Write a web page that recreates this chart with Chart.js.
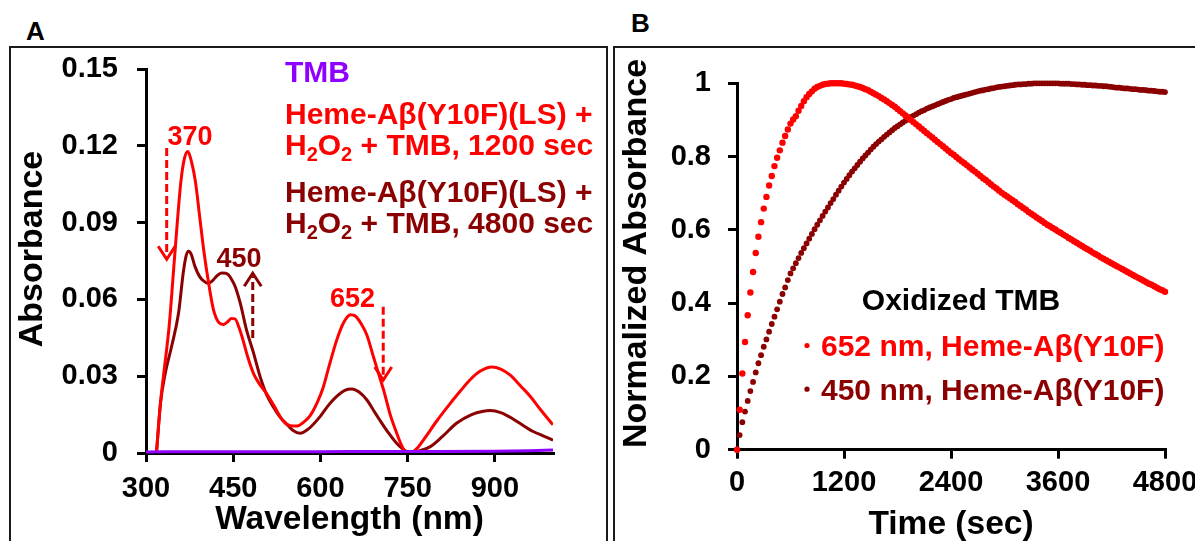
<!DOCTYPE html>
<html><head><meta charset="utf-8">
<script src="https://cdn.jsdelivr.net/npm/chart.js@4.4.1/dist/chart.umd.min.js"></script>
<style>
html,body{margin:0;padding:0;background:#fff;overflow:hidden;width:1195px;height:541px;}
.panel{position:absolute;border:2px solid #1a1a1a;box-sizing:border-box;}
#pa{left:9px;top:46px;width:599px;height:540px;}
#pb{left:613px;top:46px;width:640px;height:540px;}
.lbl{position:absolute;font:bold 26px "Liberation Sans",Arial,sans-serif;line-height:26px;color:#000;}
canvas{position:absolute;}
</style></head><body>
<div class="panel" id="pa"></div>
<div class="panel" id="pb"></div>
<div class="lbl" style="left:26px;top:18px">A</div>
<div class="lbl" style="left:631px;top:10px">B</div>
<canvas id="ca" width="594" height="512" style="left:11px;top:48px"></canvas>
<canvas id="cb" width="620" height="512" style="left:615px;top:48px"></canvas>
<script>
// ---------- Panel A data (wavelength in nm, absorbance) ----------
const wlTMB  = [300,400,500,600,700,800,900,960,1000];
const absTMB = [0.0004,0.0005,0.0005,0.0005,0.0006,0.0006,0.0007,0.0009,0.0012];

const wlRed  = [318,325,330,340,350,360,366,372,378,385,393,400,408,416,425,433,440,447,453,460,467,475,485,495,508,520,535,548,560,570,582,595,605,615,628,640,652,660,670,680,691,700,710,720,730,740,748,757,766,780,800,823,840,857,875,895,910,926,945,961,980,1000];
const absRed = [0,0.020,0.030,0.050,0.079,0.106,0.115,0.1178,0.114,0.106,0.091,0.078,0.066,0.056,0.051,0.0502,0.0512,0.0525,0.0524,0.049,0.044,0.0375,0.031,0.027,0.023,0.0185,0.0128,0.0107,0.0105,0.0118,0.0145,0.020,0.0258,0.034,0.0441,0.051,0.054,0.0535,0.0505,0.046,0.0377,0.031,0.0235,0.015,0.0085,0.0028,0.0002,0.0003,0.0018,0.006,0.0125,0.0193,0.024,0.0285,0.032,0.0336,0.0328,0.0305,0.026,0.0221,0.0165,0.011];

const wlDark  = [318,325,333,344,356,364,369,373,378,384,392,399,407,414,422,430,437,442,448,453,462,473,485,496,508,519,530,542,553,565,580,599,615,628,642,654,667,680,691,702,716,731,745,754,770,789,810,834,860,880,892,910,930,943,965,985,1000];
const absDark = [0,0.0195,0.031,0.0416,0.0547,0.0703,0.077,0.0788,0.0775,0.073,0.069,0.0672,0.0662,0.0672,0.0692,0.0703,0.0702,0.0695,0.0675,0.0652,0.0586,0.048,0.039,0.030,0.0225,0.018,0.0142,0.0112,0.0088,0.0077,0.0095,0.0141,0.019,0.0221,0.0245,0.025,0.0237,0.0207,0.0168,0.0129,0.0082,0.0038,0.001,0,0.0008,0.0025,0.0065,0.0116,0.015,0.0163,0.0166,0.0158,0.0135,0.0116,0.0085,0.0065,0.005];

const xTicksA = [300,450,600,750,900];
const yTicksA = [0,0.03,0.06,0.09,0.12,0.15];
const yTickLabelsA = ['0','0.03','0.06','0.09','0.12','0.15'];

// ---------- Panel B data (time in sec, normalized absorbance) ----------
const timeB = [0,30,60,90,120,150,180,210,240,270,300,330,360,390,420,450,480,510,540,570,
600,630,660,690,720,750,780,810,840,870,900,930,960,990,1020,1050,1080,1110,1140,1170,
1200,1230,1260,1290,1320,1350,1380,1410,1440,1470,1500,1530,1560,1590,1620,1650,1680,1710,1740,1770,
1800,1830,1860,1890,1920,1950,1980,2010,2040,2070,2100,2130,2160,2190,2220,2250,2280,2310,2340,2370,
2400,2430,2460,2490,2520,2550,2580,2610,2640,2670,2700,2730,2760,2790,2820,2850,2880,2910,2940,2970,
3000,3030,3060,3090,3120,3150,3180,3210,3240,3270,3300,3330,3360,3390,3420,3450,3480,3510,3540,3570,
3600,3630,3660,3690,3720,3750,3780,3810,3840,3870,3900,3930,3960,3990,4020,4050,4080,4110,4140,4170,
4200,4230,4260,4290,4320,4350,4380,4410,4440,4470,4500,4530,4560,4590,4620,4650,4680,4710,4740,4770,4800];
const norm652 = [0,0.109,0.208,0.294,0.367,0.429,0.485,0.537,0.581,0.621,0.658,0.690,0.721,0.747,0.774,0.797,0.817,0.838,0.856,0.874,
0.890,0.901,0.910,0.925,0.938,0.951,0.962,0.971,0.978,0.985,0.990,0.993,0.996,0.998,0.999,1.000,1.000,1.000,1.000,1.000,
0.999,0.998,0.997,0.996,0.994,0.992,0.990,0.987,0.984,0.981,0.977,0.973,0.969,0.965,0.960,0.956,0.951,0.946,0.941,0.936,
0.930,0.924,0.918,0.912,0.906,0.900,0.894,0.888,0.882,0.876,0.870,0.864,0.858,0.852,0.846,0.840,0.834,0.828,0.822,0.816,
0.810,0.805,0.799,0.793,0.787,0.782,0.776,0.770,0.764,0.759,0.753,0.747,0.741,0.736,0.730,0.724,0.718,0.713,0.707,0.701,
0.696,0.691,0.686,0.681,0.676,0.670,0.665,0.660,0.655,0.649,0.644,0.639,0.634,0.629,0.624,0.619,0.614,0.610,0.605,0.601,
0.596,0.592,0.587,0.583,0.578,0.574,0.569,0.565,0.560,0.556,0.551,0.547,0.543,0.538,0.534,0.530,0.525,0.521,0.517,0.513,
0.509,0.505,0.501,0.497,0.493,0.489,0.485,0.481,0.477,0.473,0.469,0.465,0.461,0.457,0.453,0.450,0.446,0.442,0.438,0.435,0.431];
const norm450 = [0,0.040,0.075,0.104,0.133,0.160,0.185,0.211,0.236,0.258,0.281,0.301,0.322,0.343,0.363,0.383,0.404,0.425,0.443,0.463,
0.481,0.495,0.509,0.523,0.537,0.550,0.563,0.576,0.589,0.602,0.614,0.626,0.638,0.650,0.661,0.673,0.684,0.696,0.707,0.718,
0.729,0.739,0.749,0.759,0.768,0.777,0.786,0.795,0.803,0.811,0.819,0.827,0.834,0.841,0.847,0.854,0.860,0.866,0.872,0.878,
0.883,0.888,0.893,0.898,0.903,0.908,0.912,0.916,0.920,0.924,0.927,0.931,0.934,0.937,0.940,0.943,0.946,0.949,0.952,0.955,
0.957,0.960,0.962,0.964,0.966,0.968,0.970,0.972,0.974,0.976,0.978,0.980,0.981,0.983,0.984,0.986,0.987,0.989,0.990,0.991,
0.992,0.993,0.994,0.995,0.996,0.997,0.997,0.998,0.998,0.999,0.999,1.000,1.000,1.000,1.000,1.000,1.000,1.000,1.000,1.000,
1.000,0.999,0.999,0.999,0.999,0.998,0.998,0.997,0.997,0.996,0.996,0.995,0.995,0.994,0.994,0.993,0.993,0.992,0.992,0.991,
0.990,0.989,0.988,0.988,0.987,0.986,0.986,0.985,0.984,0.984,0.983,0.982,0.982,0.981,0.980,0.980,0.979,0.978,0.977,0.977,0.976];

const xTicksB = [0,1200,2400,3600,4800];
const yTicksB = [0,0.2,0.4,0.6,0.8,1];
const yTickLabelsB = ['0','0.2','0.4','0.6','0.8','1'];

// ---------- styles ----------
const RED = '#FF0000', DARK = '#8B0000', PURPLE = '#8F00FF';
const FAM = '"Liberation Sans", Arial, Helvetica, sans-serif';

function pairs(xs, ys){ return xs.map((x,i)=>({x:x, y:ys[i]})); }

function richText(ctx, parts, x, y, size, align, color){
  const F = 'bold ' + size + 'px ' + FAM;
  const FS = 'bold ' + Math.round(size*0.68) + 'px ' + FAM;
  let w = 0;
  parts.forEach(p => { ctx.font = p[1] ? FS : F; w += ctx.measureText(p[0]).width; });
  let cx = align === 'center' ? x - w/2 : x;
  ctx.fillStyle = color; ctx.textAlign = 'left'; ctx.textBaseline = 'alphabetic';
  parts.forEach(p => {
    ctx.font = p[1] ? FS : F;
    ctx.fillText(p[0], cx, y + (p[1] ? size*0.21 : 0));
    cx += ctx.measureText(p[0]).width;
  });
}
function dashedArrow(ctx, x, yFrom, yTo, color){
  const dir = yTo > yFrom ? 1 : -1;
  ctx.save();
  ctx.strokeStyle = color; ctx.lineWidth = 3; ctx.lineCap = 'butt';
  ctx.setLineDash([8,4]);
  ctx.beginPath(); ctx.moveTo(x, yFrom); ctx.lineTo(x, yTo - dir*3); ctx.stroke();
  ctx.setLineDash([]);
  ctx.lineJoin = 'miter';
  ctx.beginPath(); ctx.moveTo(x-8.5, yTo - dir*13); ctx.lineTo(x, yTo); ctx.lineTo(x+8.5, yTo - dir*13); ctx.stroke();
  ctx.restore();
}

// annotation anchors in data units (panel A)
const peakLabelsA = [
  {text:'370', wl:375.6, a:0.1203, color:RED},
  {text:'450', wl:459.9, a:0.0728, color:DARK},
  {text:'652', wl:655,   a:0.0571, color:RED}
];
const arrowsA = [
  {wl:335.6, from:0.1191, to:0.0757, color:RED},
  {wl:483.6, from:0.0449, to:0.0702, color:DARK},
  {wl:708,   from:0.0571, to:0.0285, color:RED}
];
const legendA = [
  {parts:[['TMB']], color:PURPLE, dy:13},
  {parts:[['Heme-A\u03B2(Y10F)(LS) +']], color:RED, dy:55},
  {parts:[['H'],['2',1],['O'],['2',1],[' + TMB, 1200 sec']], color:RED, dy:86},
  {parts:[['Heme-A\u03B2(Y10F)(LS) +']], color:DARK, dy:133},
  {parts:[['H'],['2',1],['O'],['2',1],[' + TMB, 4800 sec']], color:DARK, dy:164}
];

const annotA = {
  id:'annotA',
  afterDraw(chart){
    const {ctx, chartArea, scales:{x, y}} = chart;
    ctx.save();
    legendA.forEach(l => richText(ctx, l.parts, chartArea.left + 139, chartArea.top + l.dy, 30, 'left', l.color));
    peakLabelsA.forEach(p => richText(ctx, [[p.text]], x.getPixelForValue(p.wl), y.getPixelForValue(p.a), 27, 'center', p.color));
    arrowsA.forEach(a => dashedArrow(ctx, x.getPixelForValue(a.wl), y.getPixelForValue(a.from), y.getPixelForValue(a.to), a.color));
    ctx.restore();
  }
};

const legendB = [
  {text:'652 nm, Heme-A\u03B2(Y10F)', color:RED, dy:273},
  {text:'450 nm, Heme-A\u03B2(Y10F)', color:DARK, dy:316.7}
];
const annotB = {
  id:'annotB',
  afterDraw(chart){
    const {ctx, chartArea} = chart;
    ctx.save();
    richText(ctx, [['Oxidized TMB']], chartArea.left + 224, chartArea.top + 226.7, 30, 'center', '#000');
    legendB.forEach(l => {
      ctx.fillStyle = l.color;
      ctx.beginPath(); ctx.arc(chartArea.left + 70, chartArea.top + l.dy - 10.8, 2.6, 0, Math.PI*2); ctx.fill();
      richText(ctx, [[l.text]], chartArea.left + 84, chartArea.top + l.dy, 30, 'left', l.color);
    });
    ctx.restore();
  }
};

function axisCfg(o){
  return {
    type:'linear', min:o.min, max:o.max,
    afterBuildTicks: s => { s.ticks = o.ticks.map(v => ({value:v})); },
    afterFit: s => {
      if (o.width !== undefined) { s.width = o.width; s.paddingTop = 0; s.paddingBottom = 0; }
      if (o.height !== undefined) { s.height = o.height; s.paddingLeft = 0; s.paddingRight = 0; }
    },
    afterUpdate: s => {
      if (o.titleShift && !s._titleShifted) {
        const orig = s.drawTitle;
        s.drawTitle = function(){ const c = this.ctx; c.save(); c.translate(0, o.titleShift); orig.apply(this, arguments); c.restore(); };
        s._titleShifted = true;
      }
    },
    ticks:{ color:'#000', font:{family:FAM, size:29, weight:'bold'}, padding:o.pad, maxRotation:0, autoSkip:false,
            callback: o.labels ? ((v,i) => o.labels[i]) : (v => String(v)) },
    grid:{ display:true, drawOnChartArea:false, drawTicks:true, tickLength:9, tickWidth:3, tickColor:'#000', color:'#000', lineWidth:3 },
    border:{ display:true, color:'#000', width:3 },
    title:{ display:true, text:o.title, color:'#000', font:{family:FAM, size:o.tsize, weight:'bold'}, padding:o.tpad }
  };
}

Chart.defaults.font.family = FAM;

new Chart(document.getElementById('ca'), {
  type:'line',
  data:{ datasets:[
    {label:'TMB', data:pairs(wlTMB, absTMB), borderColor:PURPLE, borderWidth:3, pointRadius:0, cubicInterpolationMode:'monotone', clip:false},
    {label:'Heme-A\u03B2(Y10F)(LS) + H2O2 + TMB, 1200 sec', data:pairs(wlRed, absRed), borderColor:RED, borderWidth:3, pointRadius:0, cubicInterpolationMode:'monotone'},
    {label:'Heme-A\u03B2(Y10F)(LS) + H2O2 + TMB, 4800 sec', data:pairs(wlDark, absDark), borderColor:DARK, borderWidth:3, pointRadius:0, cubicInterpolationMode:'monotone'}
  ]},
  options:{
    responsive:false, animation:false, events:[],
    layout:{padding:{left:0, top:21, right:52, bottom:0}},
    plugins:{legend:{display:false}, tooltip:{enabled:false}},
    scales:{
      x: axisCfg({min:300, max:1000, ticks:xTicksA, pad:10, height:107, title:'Wavelength (nm)', tsize:33.5, tpad:{top:0, bottom:20}}),
      y: axisCfg({min:0, max:0.15, ticks:yTicksA, labels:yTickLabelsA, pad:19, width:135, title:'Absorbance', tsize:34, tpad:{top:1, bottom:0}, titleShift:-12})
    }
  },
  plugins:[annotA]
});

new Chart(document.getElementById('cb'), {
  type:'scatter',
  data:{ datasets:[
    {label:'652 nm, Heme-A\u03B2(Y10F)', data:pairs(timeB, norm652), showLine:false, pointRadius:3.2, pointBorderWidth:0, pointBackgroundColor:RED, backgroundColor:RED, clip:false},
    {label:'450 nm, Heme-A\u03B2(Y10F)', data:pairs(timeB, norm450), showLine:false, pointRadius:2.9, pointBorderWidth:0, pointBackgroundColor:DARK, backgroundColor:DARK, clip:false}
  ]},
  options:{
    responsive:false, animation:false, events:[],
    layout:{padding:{left:0, top:35.3, right:70, bottom:0}},
    plugins:{legend:{display:false}, tooltip:{enabled:false}},
    scales:{
      x: axisCfg({min:0, max:4800, ticks:xTicksB, pad:7, height:110.3, title:'Time (sec)', tsize:33.5, tpad:{top:0, bottom:15}}),
      y: axisCfg({min:0, max:1, ticks:yTicksB, labels:yTickLabelsB, pad:17, width:122, title:'Normalized Absorbance', tsize:34, tpad:{top:1, bottom:0}, titleShift:-13})
    }
  },
  plugins:[annotB]
});
</script>
</body></html>
